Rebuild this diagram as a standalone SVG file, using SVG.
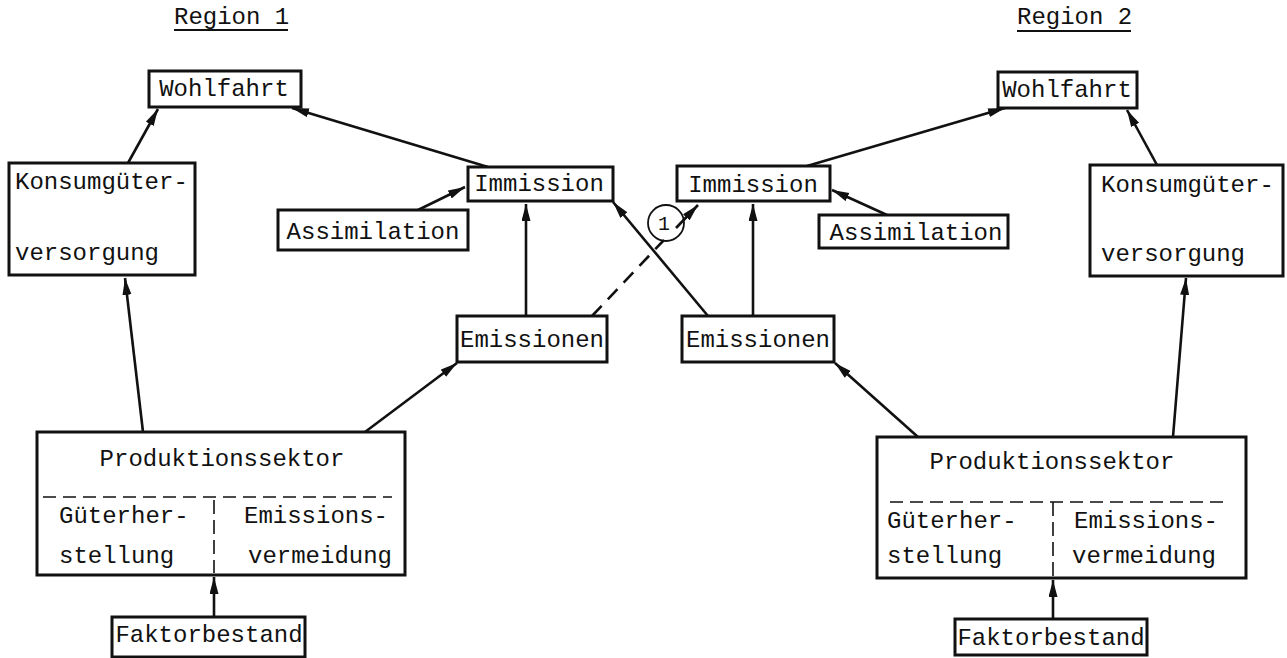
<svg xmlns="http://www.w3.org/2000/svg" width="1287" height="658" viewBox="0 0 1287 658">
<style>
.box{fill:#fff;stroke:#111;stroke-width:3}
.t{font-family:"Liberation Mono","Courier New",monospace;font-size:24px;fill:#111}
.c{text-anchor:middle}
.ln{stroke:#111;stroke-width:2.6;fill:none}
.dash{stroke:#111;stroke-width:1.6;stroke-dasharray:13 7;fill:none}
.cdash{stroke:#111;stroke-width:2.6;stroke-dasharray:14 9;fill:none}
</style>
<defs>
<marker id="ah" markerUnits="userSpaceOnUse" markerWidth="18" markerHeight="10" refX="17" refY="4.5" orient="auto">
<path d="M0,0 L17,4.5 L0,9 z" fill="#111"/>
</marker>
</defs>
<rect width="1287" height="658" fill="#fff"/>

<g id="title1">
<text class="t" x="174" y="24">Region 1</text>
<line x1="174" y1="30" x2="288" y2="30" stroke="#111" stroke-width="2.2"/>
</g>
<g id="title2">
<text class="t" x="1017" y="24">Region 2</text>
<line x1="1017" y1="31" x2="1131" y2="31" stroke="#111" stroke-width="2.2"/>
</g>

<g id="connectors">
<line class="ln" x1="128" y1="163" x2="158" y2="109" marker-end="url(#ah)"/>
<line class="ln" x1="488" y1="167" x2="292" y2="108" marker-end="url(#ah)"/>
<line class="ln" x1="418" y1="210" x2="465" y2="187" marker-end="url(#ah)"/>
<line class="ln" x1="526" y1="316" x2="526" y2="204" marker-end="url(#ah)"/>
<line class="cdash" x1="592" y1="316" x2="664" y2="240"/>
<line class="ln" x1="676" y1="228" x2="698" y2="205" marker-end="url(#ah)"/>
<line class="ln" x1="708" y1="316" x2="613" y2="202" marker-end="url(#ah)"/>
<line class="ln" x1="753" y1="316" x2="753" y2="204" marker-end="url(#ah)"/>
<line class="ln" x1="887" y1="215" x2="832" y2="190" marker-end="url(#ah)"/>
<line class="ln" x1="807" y1="166" x2="1005" y2="108" marker-end="url(#ah)"/>
<line class="ln" x1="1157" y1="165" x2="1127" y2="110" marker-end="url(#ah)"/>
<line class="ln" x1="143" y1="432" x2="125" y2="278" marker-end="url(#ah)"/>
<line class="ln" x1="365" y1="432" x2="457" y2="363" marker-end="url(#ah)"/>
<line class="ln" x1="214" y1="617" x2="214" y2="577" marker-end="url(#ah)"/>
<line class="ln" x1="918" y1="437" x2="835" y2="363" marker-end="url(#ah)"/>
<line class="ln" x1="1173" y1="437" x2="1186" y2="278" marker-end="url(#ah)"/>
<line class="ln" x1="1053" y1="619" x2="1053" y2="580" marker-end="url(#ah)"/>
</g>

<g id="label1">
<circle cx="666" cy="223" r="18" fill="none" stroke="#111" stroke-width="1.8"/>
<text class="t c" x="664" y="230" style="font-size:20px">1</text>
</g>

<g id="wohlfahrt1">
<rect class="box" x="149" y="71" width="152" height="36"/>
<text class="t c" x="224" y="96">Wohlfahrt</text>
</g>
<g id="konsum1">
<rect class="box" x="9" y="163" width="186" height="112"/>
<text class="t" x="15" y="189">Konsumgüter-</text>
<text class="t" x="15" y="260">versorgung</text>
</g>
<g id="immission1">
<rect class="box" x="468" y="167" width="145" height="34"/>
<text class="t c" x="539" y="191">Immission</text>
</g>
<g id="assimilation1">
<rect class="box" x="278" y="210" width="190" height="40"/>
<text class="t c" x="373" y="239">Assimilation</text>
</g>
<g id="emissionen1">
<rect class="box" x="457" y="316" width="150" height="46"/>
<text class="t c" x="532" y="347">Emissionen</text>
</g>
<g id="produktion1">
<rect class="box" x="37" y="432" width="368" height="143"/>
<text class="t c" x="222" y="466">Produktionssektor</text>
<line class="dash" x1="43" y1="497" x2="392" y2="497"/>
<line class="dash" x1="214" y1="500" x2="214" y2="573" style="stroke-dasharray:14 6"/>
<text class="t" x="59" y="523">Güterher-</text>
<text class="t" x="59" y="563">stellung</text>
<text class="t" x="244" y="523">Emissions-</text>
<text class="t" x="248" y="563">vermeidung</text>
</g>
<g id="faktor1">
<rect class="box" x="112" y="617" width="193" height="40"/>
<text class="t c" x="209" y="642">Faktorbestand</text>
</g>

<g id="wohlfahrt2">
<rect class="box" x="998" y="72" width="139" height="36"/>
<text class="t c" x="1067" y="97">Wohlfahrt</text>
</g>
<g id="konsum2">
<rect class="box" x="1090" y="165" width="193" height="111"/>
<text class="t" x="1101" y="192">Konsumgüter-</text>
<text class="t" x="1101" y="261">versorgung</text>
</g>
<g id="immission2">
<rect class="box" x="677" y="166" width="153" height="35"/>
<text class="t c" x="753" y="192">Immission</text>
</g>
<g id="assimilation2">
<rect class="box" x="819" y="215" width="189" height="33"/>
<text class="t c" x="916" y="240">Assimilation</text>
</g>
<g id="emissionen2">
<rect class="box" x="682" y="316" width="152" height="46"/>
<text class="t c" x="758" y="347">Emissionen</text>
</g>
<g id="produktion2">
<rect class="box" x="877" y="437" width="369" height="141"/>
<text class="t c" x="1052" y="469">Produktionssektor</text>
<line class="dash" x1="890" y1="502" x2="1227" y2="502"/>
<line class="dash" x1="1053" y1="502" x2="1053" y2="576" style="stroke-dasharray:14 6"/>
<text class="t" x="887" y="528">Güterher-</text>
<text class="t" x="887" y="563">stellung</text>
<text class="t" x="1074" y="528">Emissions-</text>
<text class="t" x="1072" y="563">vermeidung</text>
</g>
<g id="faktor2">
<rect class="box" x="955" y="619" width="192" height="36"/>
<text class="t c" x="1051" y="645">Faktorbestand</text>
</g>
</svg>
